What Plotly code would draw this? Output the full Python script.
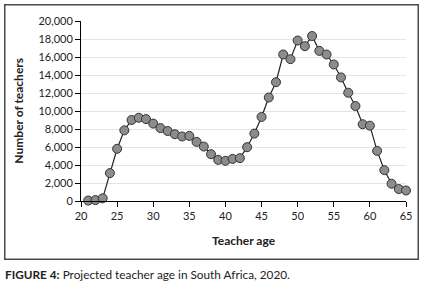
import plotly.graph_objects as go

ages = list(range(21, 66))
teachers = [50, 100, 300, 3100, 5800, 7850, 9000, 9250, 9100, 8600, 8100, 7780, 7420, 7170, 7230,
            6570, 6050, 5200, 4570, 4460, 4680, 4760, 5980, 7490, 9340, 11500, 13200, 16280, 15760,
            17830, 17200, 18330, 16680, 16280, 15170, 13730, 12030, 10550, 8530, 8370, 5570, 3430,
            1920, 1330, 1170]
x_ticks = [20, 25, 30, 35, 40, 45, 50, 55, 60, 65]
y_ticks = list(range(0, 20001, 2000))

FONT = "Lato, Carlito, Calibri, sans-serif"

fig = go.Figure()
fig.add_trace(go.Scatter(
    x=ages, y=teachers, mode="lines+markers",
    line=dict(color="#222222", width=1.2),
    marker=dict(size=9, color="#8c8c8c", line=dict(color="#333333", width=1)),
    cliponaxis=False, showlegend=False,
))

fig.update_layout(
    width=424, height=291,
    margin=dict(l=81, r=18, t=21, b=90),
    paper_bgcolor="white", plot_bgcolor="white",
    font=dict(family=FONT, size=11, color="#222"),
    xaxis=dict(range=[20, 65], tickvals=x_ticks, showgrid=False, zeroline=False,
               showline=True, linecolor="black", linewidth=1,
               ticks="outside", ticklen=5, tickcolor="black", tickfont=dict(size=11)),
    yaxis=dict(range=[0, 20000], tickvals=y_ticks, tickformat=",d", showgrid=True,
               gridcolor="#e4e4e4", gridwidth=1, zeroline=False,
               showline=True, linecolor="black", linewidth=1,
               ticks="outside", ticklen=5, tickcolor="black", tickfont=dict(size=11)),
    annotations=[
        dict(text="&nbsp;", xref="paper", yref="paper", x=0.4008, y=0.3806,
             xanchor="center", yanchor="middle", showarrow=False,
             width=412, height=253, borderpad=0, bordercolor="#4a4a4a", borderwidth=1.5),
        dict(text="<b>Teacher age</b>", xref="paper", yref="paper", x=0.5, y=-0.222,
             xanchor="center", yanchor="middle", showarrow=False, font=dict(size=12)),
        dict(text="<b>Number of teachers</b>", xref="paper", yref="paper", x=-0.195, y=0.5,
             xanchor="center", yanchor="middle", textangle=-90, showarrow=False, font=dict(size=12)),
        dict(text="<b>FIGURE 4:</b> Projected teacher age in South Africa, 2020.",
             xref="paper", yref="paper", x=-0.24, y=-0.411, xanchor="left", yanchor="middle",
             showarrow=False, font=dict(size=11.8)),
    ],
)

fig.write_html("out.html", config={"displayModeBar": False},
               post_script="document.body.style.margin='0';document.body.style.overflow='hidden';")
